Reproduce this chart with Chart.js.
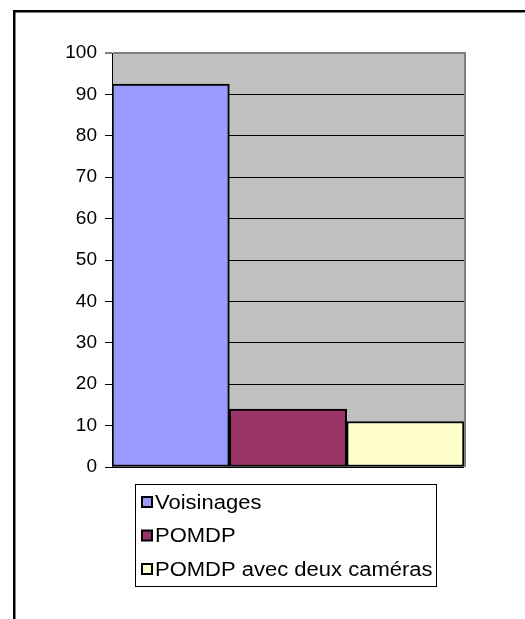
<!DOCTYPE html>
<html>
<head>
<meta charset="utf-8">
<script src="https://cdn.jsdelivr.net/npm/chart.js@4/dist/chart.umd.min.js"></script>
<style>
  body { margin: 0; background: #fff; }
  canvas { display: block; }
</style>
</head>
<body>
<canvas id="chart" width="525" height="619"></canvas>
<script>
// data
const seriesNames = ['Voisinages', 'POMDP', 'POMDP avec deux caméras'];
const seriesValues = [92.5, 14, 11];
const seriesColors = ['#9999FF', '#993366', '#FFFFCC'];
const yTicks = [0, 10, 20, 30, 40, 50, 60, 70, 80, 90, 100];

const FONT = 'Liberation Sans, Arial, sans-serif';

// frame + grey plot area, drawn under everything
const backdrop = {
    id: 'backdrop',
    beforeDraw(chart) {
        const c = chart.ctx, a = chart.chartArea;
        c.save();
        c.fillStyle = '#fff';
        c.fillRect(0, 0, chart.width, chart.height);
        c.fillStyle = '#000';
        c.fillRect(13, 10, chart.width, 2.5);
        c.fillRect(13, 10, 2.5, chart.height);
        c.fillStyle = '#C0C0C0';
        c.fillRect(a.left, a.top, a.right - a.left, a.bottom - a.top);
        c.restore();
    },
    beforeDatasetsDraw(chart) {
        const c = chart.ctx, a = chart.chartArea;
        c.save();
        c.fillStyle = '#808080';
        c.fillRect(a.right, a.top - 1, 2, a.bottom - a.top + 1);
        c.restore();
    }
};

// boxed legend under the plot, one series per row
const boxLegend = {
    id: 'boxLegend',
    afterDraw(chart) {
        const c = chart.ctx;
        const x0 = 135, y0 = 484, w = 301, h = 102;
        c.save();
        c.fillStyle = '#fff';
        c.fillRect(x0, y0, w, h);
        c.strokeStyle = '#000';
        c.lineWidth = 1;
        c.strokeRect(x0 + 0.5, y0 + 0.5, w, h);
        c.font = '20px ' + FONT;
        c.textBaseline = 'middle';
        chart.data.datasets.forEach((ds, i) => {
            const cy = 502 + i * 33.5;
            c.fillStyle = ds.backgroundColor;
            c.fillRect(142, cy - 5, 10, 10);
            c.strokeStyle = '#000';
            c.lineWidth = 2;
            c.strokeRect(142, cy - 5, 10, 10);
            c.fillStyle = '#000';
            c.save();
            c.translate(155, cy + 1);
            c.scale(1.1, 1);
            c.fillText(ds.label, 0, 0);
            c.restore();
        });
        c.restore();
    }
};

const datasets = seriesNames.map((name, i) => ({
    label: name,
    data: [seriesValues[i]],
    backgroundColor: seriesColors[i],
    borderColor: '#000',
    borderWidth: 2,
    borderSkipped: false,
    categoryPercentage: 1,
    barPercentage: 1
}));

new Chart(document.getElementById('chart'), {
    type: 'bar',
    data: { labels: [''], datasets: datasets },
    options: {
        responsive: false,
        animation: false,
        devicePixelRatio: 1,
        layout: { padding: { left: 0, top: 53, right: 61, bottom: 152 } },
        plugins: { legend: { display: false }, tooltip: { enabled: false } },
        scales: {
            x: { display: false },
            y: {
                min: 0,
                max: 100,
                afterFit(scale) { scale.width = 112; },
                afterBuildTicks(scale) { scale.ticks = yTicks.map(v => ({ value: v })); },
                ticks: {
                    color: '#000',
                    padding: 8,
                    font: { family: FONT, size: 19 }
                },
                grid: {
                    color: ctx => (ctx.tick && ctx.tick.value === 100) ? '#808080' : '#000',
                    lineWidth: ctx => (ctx.tick && ctx.tick.value === 100) ? 2 : 1,
                    tickColor: '#000',
                    tickLength: 7,
                    tickWidth: 1
                },
                border: { color: '#000', width: 1 }
            }
        }
    },
    plugins: [backdrop, boxLegend]
});
</script>
</body>
</html>
